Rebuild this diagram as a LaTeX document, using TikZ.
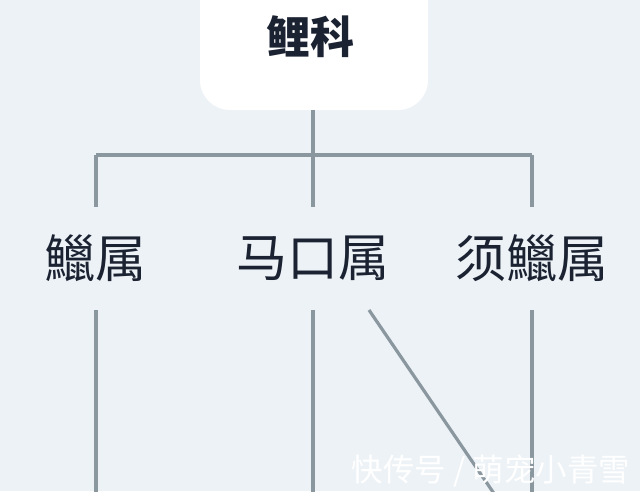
\documentclass[tikz,border=0pt]{standalone}
\usepackage{fontspec}
\newfontfamily\cjk{Noto Sans CJK SC}
\definecolor{bg}{HTML}{EDF2F6}
\definecolor{ln}{HTML}{8A979F}
\definecolor{tx}{HTML}{1B2232}
\begin{document}
\begin{tikzpicture}[x=1pt,y=-1pt,
  conn/.style={draw=ln,line width=3.2pt},
  genus/.style={inner sep=0pt,minimum height=103pt,text=tx,font=\cjk\fontsize{51}{51}\selectfont},
  family/.style={fill=white,draw=none,rounded corners=30pt,minimum width=228pt,minimum height=140pt,inner sep=0pt}]
\fill[bg] (0,0) rectangle (640,491);
\useasboundingbox (0,0) rectangle (640,491);
% top box
\node[family] (fam) at (314,40) {};
\node[text=tx,font=\cjk\bfseries\fontsize{44}{44}\selectfont,inner sep=0pt] (famt) at (310,37) {鲤科};
\coordinate (famb) at (313,110);
% genus labels
\node[genus] (g1) at (95,258.5) {鱲属};
\node[genus] (g2) at (313,258.5) {马口属};
\node[genus] (g3) at (532,258.5) {须鱲属};
% junctions
\coordinate (j) at (313,155);
\coordinate (j1) at (96,155);
\coordinate (j3) at (532,155);
% bottom ends
\coordinate (b1) at (96,495);
\coordinate (b2) at (313,495);
\coordinate (b3) at (532,495);
\coordinate (d0) at (369,310);
\coordinate (d1) at (495,495);
\draw[conn] (famb) -- (j);
\draw[conn] (j1) -- (j3);
\draw[conn] (j1) -- (g1.north -| j1);
\draw[conn] (j) -- (g2.north);
\draw[conn] (j3) -- (g3.north -| j3);
\draw[conn] (g1.south -| j1) -- (b1);
\draw[conn] (g2.south) -- (b2);
\draw[conn] (g3.south -| j3) -- (b3);
\draw[conn] (d0) -- (d1);
% watermark
\node[text=white,inner sep=0pt,font=\cjk\fontsize{31.5}{31.5}\selectfont] (wm) at (491,471) {快传号 / 萌宠小青雪};
\end{tikzpicture}
\end{document}
